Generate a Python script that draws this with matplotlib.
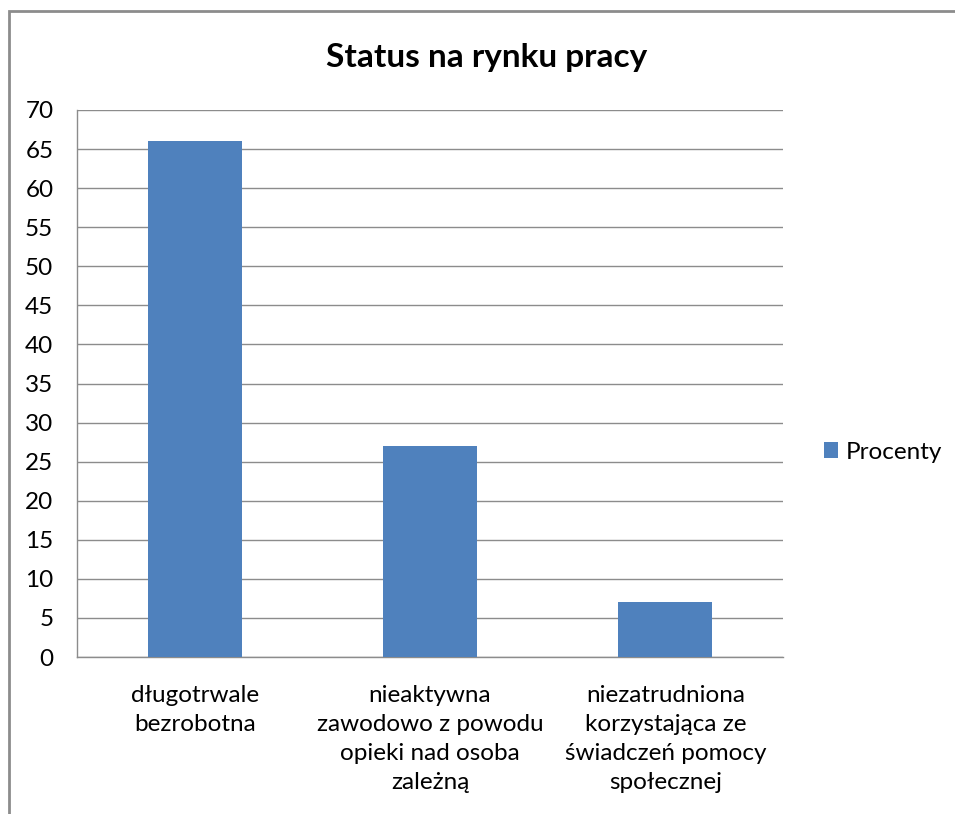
import matplotlib.pyplot as plt
from matplotlib.patches import Rectangle

plt.rcParams['font.family'] = ['Lato', 'DejaVu Sans']

categories = [
    'długotrwale\nbezrobotna',
    'nieaktywna\nzawodowo z powodu\nopieki nad osoba\nzależną',
    'niezatrudniona\nkorzystająca ze\nświadczeń pomocy\nspołecznej',
]
procenty = [66, 27, 7]
yticks = list(range(0, 75, 5))

fig = plt.figure(figsize=(9.55, 8.14), dpi=100)

# ramka wykresu (ucięta z prawej i u dołu)
fig.patches.append(Rectangle((9 / 955, -0.1), 1.2, 1 - 11 / 814 + 0.1,
                             transform=fig.transFigure, fill=False,
                             edgecolor='#8c8c8c', linewidth=2))

ax = fig.add_axes([77 / 955, 1 - 657 / 814, 706 / 955, 547 / 814])
x = range(len(categories))
ax.bar(x, procenty, width=0.4, color='#4f81bd', label='Procenty', zorder=3)

ax.set_xlim(-0.5, len(categories) - 0.5)
ax.set_ylim(0, 70)
ax.set_yticks(yticks)
ax.set_xticks(list(x))
ax.set_xticklabels(categories, fontsize=17.5, linespacing=1.47)
ax.tick_params(axis='both', length=0, colors='#000000', labelsize=17.5)
ax.tick_params(axis='y', pad=17)
ax.tick_params(axis='x', pad=20)
ax.grid(axis='y', color='#8c8c8c', linewidth=1, zorder=0)

for side in ['top', 'right']:
    ax.spines[side].set_visible(False)
for side in ['left', 'bottom']:
    ax.spines[side].set_color('#8c8c8c')
    ax.spines[side].set_linewidth(1)

fig.text(487 / 955, 1 - 57 / 814, 'Status na rynku pracy', fontsize=24,
         fontweight='bold', ha='center', va='center')

fig.legend(loc='center left', bbox_to_anchor=(802 / 955, 1 - 452 / 814),
           frameon=False, fontsize=17.5, handlelength=0.6, handleheight=0.6,
           handletextpad=0.3)

fig.savefig('out.png', dpi=100)
